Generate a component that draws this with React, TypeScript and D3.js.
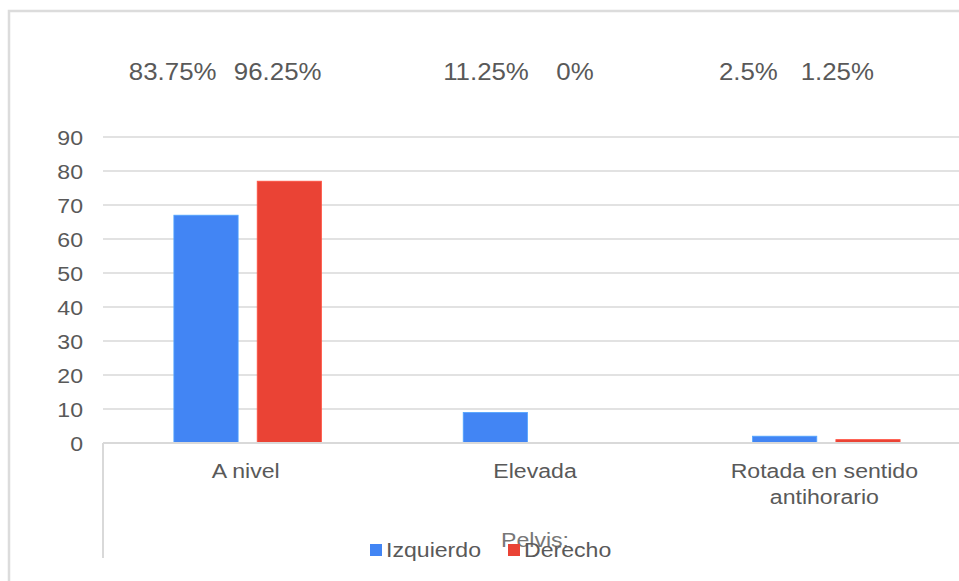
import React, { useRef, useEffect } from "react";
import * as d3 from "d3";

const categories = ["A nivel", "Elevada", "Rotada en sentido antihorario"];
const seriesNames = ["Izquierdo", "Derecho"];
const izquierdo = [67, 9, 2];
const derecho = [77, 0, 1];
const percentLabels = [
  ["83.75%", "96.25%"],
  ["11.25%", "0%"],
  ["2.5%", "1.25%"],
];
const yTicks = [0, 10, 20, 30, 40, 50, 60, 70, 80, 90];
const axisTitle = "Pelvis:";

const colors = ["#4285f4", "#ea4335"];
const textColor = "#595959";
const gridColor = "#d9d9d9";
const font = "'Liberation Sans', Arial, sans-serif";
const sx = 1.1; // the reference text is a bit wide

const App = () => {
  const ref = useRef<SVGSVGElement>(null);

  useEffect(() => {
    const width = 959;
    const height = 581;
    const svg = d3.select(ref.current).attr("width", width).attr("height", height);
    svg.selectAll("*").remove();

    const left = 103;
    const x = d3.scaleBand().domain(categories).range([left, 971]).padding(0);
    const bw = x.bandwidth();
    const x1 = d3
      .scaleBand()
      .domain(seriesNames)
      .range([bw * 0.245, bw * 0.755])
      .paddingInner(0.229)
      .paddingOuter(0);
    const y = d3.scaleLinear().domain([0, 90]).range([443, 137]);

    // helper for stretched text
    const txt = (g, xx, yy, s, size, anchor, fill = textColor) =>
      g
        .append("text")
        .attr("transform", `translate(${xx},${yy}) scale(${sx},1)`)
        .attr("text-anchor", anchor)
        .attr("font-family", font)
        .attr("font-size", size)
        .attr("fill", fill)
        .attr("xml:space", "preserve")
        .text(s);

    // outer border
    svg
      .append("path")
      .attr("d", `M9,${height + 5}V11H${width + 5}`)
      .attr("fill", "none")
      .attr("stroke", "#dcdcdc")
      .attr("stroke-width", 2.5);

    // grid
    svg
      .append("g")
      .selectAll("line")
      .data(yTicks.filter((d) => d > 0))
      .enter()
      .append("line")
      .attr("x1", left)
      .attr("x2", width)
      .attr("y1", (d) => y(d))
      .attr("y2", (d) => y(d))
      .attr("stroke", gridColor)
      .attr("stroke-width", 1.5);

    // y labels
    const yl = svg.append("g");
    yTicks.forEach((t) => txt(yl, 83, y(t) + 7.5, String(t), 21, "end"));

    // bars
    const rows = categories.map((c, i) => ({ c, vals: [izquierdo[i], derecho[i]] }));
    const groups = svg
      .selectAll(".grp")
      .data(rows)
      .enter()
      .append("g")
      .attr("class", "grp")
      .attr("transform", (d) => `translate(${x(d.c)},0)`);
    groups
      .selectAll("rect")
      .data((d) => d.vals.map((v, j) => ({ key: seriesNames[j], v, j })))
      .enter()
      .append("rect")
      .attr("x", (d) => x1(d.key))
      .attr("width", x1.bandwidth())
      .attr("y", (d) => y(d.v))
      .attr("height", (d) => y(0) - y(d.v))
      .attr("fill", (d) => colors[d.j])
      .attr("stroke", (d) => d3.color(colors[d.j]).brighter(0.6))
      .attr("stroke-width", (d) => (d.v > 0 ? 0.8 : 0));

    // axis lines
    svg
      .append("path")
      .attr("d", `M${left},443H${width}M${left},443V558`)
      .attr("fill", "none")
      .attr("stroke", gridColor)
      .attr("stroke-width", 2);

    // category labels
    const cl = svg.append("g");
    categories.forEach((c) => {
      const cx = x(c) + bw / 2 - 2;
      if (c.length > 15) {
        txt(cl, cx, 478, "Rotada en sentido", 21, "middle");
        txt(cl, cx, 504, "antihorario", 21, "middle");
      } else {
        txt(cl, cx, 478, c, 21, "middle");
      }
    });

    // percent labels over each group
    const pl = svg.append("g");
    const offs = [
      [-75, 30],
      [-51, 38],
      [-78, 11],
    ];
    categories.forEach((c, i) => {
      const cx = x(c) + bw / 2;
      percentLabels[i].forEach((s, j) => txt(pl, cx + offs[i][j], 80, s, 23.5, "middle"));
    });

    // axis title then legend (they overlap in the original)
    txt(svg, 535, 547, axisTitle, 21, "middle", "#777");
    const lg = svg.append("g");
    const items = [
      { name: seriesNames[0], sq: 370, tx: 386 },
      { name: seriesNames[1], sq: 508, tx: 524 },
    ];
    items.forEach((it, i) => {
      lg.append("rect")
        .attr("x", it.sq)
        .attr("y", 544)
        .attr("width", 12)
        .attr("height", 12)
        .attr("fill", colors[i]);
      txt(lg, it.tx, 557, it.name, 21, "start");
    });
  }, []);

  return (
    <svg
      ref={ref}
      style={{ position: "absolute", left: 0, top: 0, background: "#fff" }}
    ></svg>
  );
};

export default App;
